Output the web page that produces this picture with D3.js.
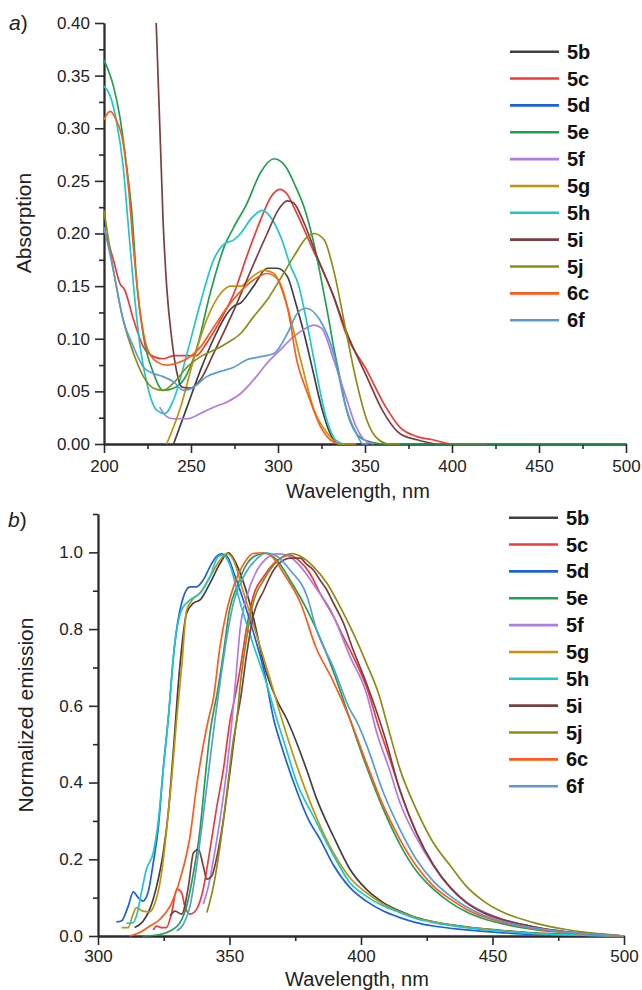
<!DOCTYPE html>
<html>
<head>
<meta charset="utf-8">
<script src="https://d3js.org/d3.v7.min.js"></script>
<style>
  body { margin: 0; background: #fff; }
  text { font-family: "Liberation Sans", Arial, sans-serif; }
</style>
</head>
<body>
<script>
// series names and colours (same order in both panels)
let names = ["5b", "5c", "5d", "5e", "5f", "5g", "5h", "5i", "5j", "6c", "6f"];
let colors = ["#404040", "#f03a3a", "#1f5fe0", "#22a052", "#b07be6", "#c8900c",
              "#1ec8c8", "#7b3f3f", "#8c8c14", "#ff5a1a", "#5b9bd5"];

// panel a) ticks
let abs_x_ticks = [200, 250, 300, 350, 400, 450, 500];
let abs_y_ticks = [0, 0.05, 0.10, 0.15, 0.20, 0.25, 0.30, 0.35, 0.40];

// panel a) absorption, [wavelength nm, absorption]
let abs_5b = [[240,0],[247.7,0.035],[255.4,0.07],[263,0.1],[270.8,0.124],[274.6,0.131],[278.5,0.134],[286,0.15],[293.8,0.167],[299.6,0.167],[305.4,0.159],[310,0.135],[315,0.105],[320,0.07],[325,0.035],[330,0.01],[335,0],[360,0]];
let abs_5c = [[200,0.205],[205.4,0.175],[209,0.153],[212,0.146],[217,0.118],[222.7,0.092],[228.5,0.083],[234,0.081],[240,0.084],[247.7,0.084],[253,0.084],[259,0.096],[267,0.118],[274.6,0.143],[282,0.178],[290,0.213],[296,0.235],[301,0.242],[305,0.238],[310,0.222],[320,0.185],[332,0.14],[339,0.105],[351,0.07],[362,0.035],[370,0.016],[380,0.007],[389,0.004],[400,0],[420,0]];
let abs_5d = [];
let abs_5e = [[200,0.365],[205.4,0.34],[209,0.312],[213,0.264],[216,0.22],[219,0.15],[222.7,0.102],[228.5,0.067],[234,0.051],[240,0.053],[245.8,0.061],[253.5,0.092],[261,0.143],[269,0.187],[274.6,0.206],[282,0.228],[290,0.258],[297.7,0.271],[302,0.268],[305,0.262],[310,0.245],[315,0.225],[320,0.195],[325,0.155],[329,0.12],[332,0.092],[336,0.06],[339,0.035],[345,0.01],[351,0.003],[360,0],[500,0]];
let abs_5f = [[232,0.035],[236,0.026],[240,0.024],[247.7,0.024],[255.4,0.029],[263,0.035],[270.8,0.04],[278.5,0.048],[286,0.061],[293.8,0.077],[301,0.089],[309,0.102],[317,0.111],[320.7,0.113],[325,0.11],[332,0.08],[339,0.045],[345,0.016],[351,0.002],[355,0]];
let abs_5g = [[236,0],[244,0.035],[251.5,0.08],[259,0.118],[267,0.143],[272.7,0.15],[278.5,0.15],[286,0.16],[292,0.165],[297.7,0.162],[305.4,0.13],[313,0.08],[320.8,0.032],[328.5,0.01],[335,0],[345,0]];
let abs_5h = [[200,0.34],[203.5,0.331],[207,0.308],[211,0.264],[214,0.207],[217,0.15],[220.8,0.092],[224.6,0.058],[230.4,0.032],[235,0.029],[240,0.042],[247.7,0.086],[255.4,0.134],[263,0.175],[269,0.19],[274.6,0.194],[278.5,0.2],[285,0.215],[291,0.222],[296,0.215],[302,0.195],[307,0.17],[312,0.15],[316,0.12],[320,0.086],[328,0.023],[333,0.004],[338,0]];
let abs_5i = [[230,0.4],[234,0.21],[236,0.15],[239,0.099],[242,0.067],[244.8,0.054],[249.6,0.053],[255.4,0.061],[263,0.086],[274.6,0.127],[286,0.171],[293.8,0.2],[300,0.222],[305.4,0.231],[309,0.229],[315,0.21],[322,0.18],[332,0.14],[339,0.108],[351,0.064],[360,0.032],[370,0.01],[380,0.004],[390,0]];
let abs_5j = [[200,0.222],[205.4,0.165],[211,0.118],[217,0.086],[222.7,0.064],[228.5,0.053],[234,0.051],[240,0.058],[247.7,0.073],[255.4,0.083],[263,0.089],[270.8,0.096],[278.5,0.105],[286,0.121],[293.8,0.137],[301,0.156],[309,0.178],[316.9,0.197],[320.7,0.2],[326.5,0.194],[332,0.165],[339,0.108],[345,0.06],[351,0.023],[356,0.007],[364,0],[370,0]];
let abs_6c = [[200,0.308],[203.5,0.316],[207,0.308],[211,0.286],[214,0.245],[217,0.185],[220.8,0.125],[224.6,0.092],[230.4,0.078],[236,0.075],[242,0.077],[247.7,0.081],[255.4,0.092],[263,0.111],[270.8,0.13],[278.5,0.145],[286,0.156],[293.8,0.162],[299.6,0.157],[305.4,0.13],[311,0.078],[317,0.048],[324.6,0.016],[330,0.004],[335,0]];
let abs_6f = [[200,0.206],[205.4,0.165],[211,0.118],[217,0.092],[222.7,0.073],[228.5,0.067],[234,0.064],[240,0.059],[245.8,0.051],[251.5,0.054],[259,0.064],[267,0.069],[274.6,0.073],[282,0.08],[290,0.083],[297.7,0.086],[305.4,0.105],[311,0.124],[316,0.129],[324,0.118],[332,0.086],[339,0.035],[345,0.01],[349,0],[352,0]];

// panel b) ticks
let em_x_ticks = [300, 350, 400, 450, 500];
let em_y_ticks = [0, 0.2, 0.4, 0.6, 0.8, 1.0];

// panel b) normalized emission, [wavelength nm, intensity]
let em_5b = [[313.9,0.022],[317,0.037],[319.7,0.07],[322.3,0.13],[324.8,0.217],[326.7,0.32],[328.6,0.478],[331,0.694],[333.7,0.842],[336.3,0.868],[338.8,0.876],[342.6,0.92],[346.4,0.971],[349.6,0.999],[351.5,0.984],[355.4,0.92],[359,0.833],[362.9,0.712],[368,0.615],[371.8,0.565],[379.5,0.43],[383,0.36],[389.5,0.26],[395.8,0.174],[402,0.122],[408.5,0.087],[414.8,0.065],[421,0.048],[427.5,0.037],[440,0.024],[453,0.015],[465.6,0.008],[484.6,0.003],[500,0]];
let em_5c = [[321,0.016],[322.3,0.026],[324,0.022],[326,0.022],[328,0.06],[330,0.122],[331.8,0.113],[333,0.078],[335,0.057],[337.5,0.07],[340,0.122],[342.6,0.226],[345,0.33],[347.7,0.435],[350.3,0.565],[352,0.62],[354,0.694],[356.6,0.807],[359,0.885],[363,0.937],[366.8,0.971],[370.6,0.989],[373,0.993],[377,0.975],[380.6,0.945],[384.4,0.894],[389.5,0.833],[393.3,0.78],[397,0.729],[402,0.651],[407,0.54],[411,0.46],[414.8,0.38],[421,0.27],[427.5,0.185],[434,0.125],[440,0.088],[446.6,0.06],[453,0.043],[465.6,0.023],[478,0.01],[490.6,0.004],[500,0]];
let em_5d = [[307,0.037],[309,0.04],[311.5,0.078],[313.4,0.115],[315.3,0.1],[317,0.091],[319,0.113],[321,0.19],[323,0.287],[324.8,0.435],[326.7,0.565],[329,0.75],[331.8,0.868],[335,0.91],[337.5,0.91],[340,0.928],[342.6,0.963],[345,0.989],[347,0.996],[349,0.99],[352,0.94],[356,0.86],[360,0.77],[363.5,0.68],[366.8,0.565],[370,0.49],[374.4,0.4],[380,0.304],[384.6,0.25],[389.5,0.185],[395.8,0.126],[402,0.091],[408.5,0.065],[414.8,0.048],[421,0.035],[427.5,0.026],[440,0.016],[453,0.009],[465.6,0.004],[478,0.002],[500,0]];
let em_5e = [[317,0],[323.5,0.004],[327.4,0.013],[331.2,0.035],[333.7,0.078],[336.3,0.165],[338.8,0.278],[340.7,0.409],[342.6,0.53],[345.5,0.64],[347.7,0.738],[350,0.85],[352.8,0.91],[356.6,0.97],[360.5,0.993],[364,0.997],[368,0.98],[373,0.928],[379.5,0.85],[385.8,0.755],[390,0.68],[395.8,0.565],[402,0.443],[408.5,0.33],[414.8,0.239],[421,0.17],[427.5,0.122],[434,0.087],[440,0.063],[446.6,0.045],[453,0.033],[465.6,0.017],[478,0.008],[490.6,0.003],[500,0]];
let em_5f = [[340,0.083],[342,0.13],[343.9,0.2],[346.4,0.304],[349,0.435],[351,0.565],[352.5,0.68],[354,0.798],[356.6,0.885],[360.5,0.954],[364,0.984],[368,0.996],[371.8,0.993],[377,0.963],[383.4,0.902],[388.4,0.85],[395.8,0.729],[402,0.634],[406,0.53],[411,0.43],[414.8,0.348],[421,0.257],[427.5,0.183],[434,0.126],[440,0.089],[446.6,0.063],[453,0.045],[465.6,0.024],[478,0.011],[490.6,0.004],[500,0]];
let em_5g = [[309,0.022],[311.5,0.022],[313,0.05],[314.6,0.074],[317,0.065],[319.7,0.063],[321.5,0.083],[324,0.157],[326,0.27],[328,0.409],[329.9,0.565],[331.8,0.7],[333.7,0.85],[336.3,0.88],[338.8,0.894],[342.6,0.937],[346.4,0.98],[349,0.997],[351.5,0.98],[355.4,0.894],[360.5,0.78],[365.5,0.668],[369.9,0.565],[376.8,0.42],[383,0.31],[389.5,0.217],[395.8,0.152],[402,0.113],[408.5,0.083],[414.8,0.063],[421,0.047],[427.5,0.037],[440,0.023],[453,0.014],[465.6,0.007],[484.6,0.002],[500,0]];
let em_5h = [[310.8,0.033],[313.4,0.035],[314.6,0.052],[316.5,0.113],[318.4,0.174],[321,0.217],[323,0.304],[324.8,0.435],[326.7,0.565],[329,0.75],[331.8,0.85],[335,0.876],[338.8,0.894],[342.6,0.937],[345.8,0.99],[347.7,0.993],[350,0.97],[354,0.87],[359,0.76],[364,0.66],[368,0.565],[371,0.5],[375.6,0.4],[382.5,0.304],[389.5,0.21],[395.8,0.139],[402,0.104],[408.5,0.078],[414.8,0.061],[421,0.045],[427.5,0.035],[440,0.022],[453,0.013],[465.6,0.007],[484.6,0.002],[500,0]];
let em_5i = [[327.4,0.052],[329.3,0.065],[331.8,0.057],[334.4,0.13],[336.3,0.217],[338.2,0.226],[340,0.183],[341.4,0.148],[343.3,0.157],[345,0.2],[347.7,0.304],[350.3,0.435],[352.8,0.565],[354,0.61],[356.6,0.738],[359,0.833],[363,0.9],[366.8,0.954],[370.6,0.98],[373,0.985],[377,0.985],[379,0.971],[381.9,0.954],[384.4,0.928],[387,0.902],[389.5,0.868],[393.3,0.816],[397,0.746],[402,0.66],[409,0.52],[414.8,0.38],[421,0.27],[427.5,0.185],[434,0.126],[440,0.087],[446.6,0.061],[453,0.045],[465.6,0.024],[478,0.011],[490.6,0.004],[500,0]];
let em_5j = [[341.4,0.061],[343.9,0.13],[346.4,0.235],[349,0.374],[351.5,0.513],[352.8,0.565],[354,0.65],[356.6,0.78],[359,0.868],[363,0.928],[366.8,0.967],[370.6,0.99],[373.7,0.997],[377,0.99],[381.9,0.963],[387,0.92],[392,0.859],[397,0.79],[402,0.712],[407,0.625],[409.8,0.556],[414.8,0.435],[421,0.33],[427.5,0.243],[434,0.183],[440,0.13],[446.6,0.091],[453,0.065],[465.6,0.035],[478,0.017],[490.6,0.006],[500,0]];
let em_6c = [[312,0],[315.8,0.009],[319.7,0.026],[323.5,0.043],[327.4,0.078],[331.2,0.148],[335,0.26],[337.5,0.391],[340,0.496],[342,0.565],[343.9,0.62],[346.4,0.755],[349,0.85],[351.5,0.91],[355.4,0.97],[359,0.997],[363,0.999],[366.8,0.984],[370.6,0.945],[377,0.868],[383,0.75],[389,0.67],[395.8,0.565],[402,0.452],[408.5,0.339],[414.8,0.252],[421,0.183],[427.5,0.13],[434,0.096],[440,0.07],[446.6,0.05],[453,0.037],[465.6,0.019],[478,0.009],[490.6,0.003],[500,0]];
let em_6f = [[329.9,0.013],[332.4,0.03],[335,0.078],[337.5,0.183],[340,0.313],[342.6,0.46],[344.5,0.565],[346.4,0.66],[349,0.78],[351.5,0.868],[355.4,0.937],[360.5,0.984],[364,0.999],[368,0.99],[373,0.954],[379.5,0.885],[383,0.8],[389.5,0.7],[395.8,0.59],[398.3,0.56],[402,0.5],[408.5,0.374],[414.8,0.278],[421,0.2],[427.5,0.143],[434,0.104],[440,0.076],[446.6,0.054],[453,0.039],[465.6,0.021],[478,0.01],[490.6,0.003],[500,0]];

let abs_data = [abs_5b, abs_5c, abs_5d, abs_5e, abs_5f, abs_5g, abs_5h, abs_5i, abs_5j, abs_6c, abs_6f];
let em_data = [em_5b, em_5c, em_5d, em_5e, em_5f, em_5g, em_5h, em_5i, em_5j, em_6c, em_6f];

let width = 642, height = 990;
let axis_color = "#2b2b2b";

let svg = d3.select("body").append("svg")
  .attr("width", width)
  .attr("height", height);

function draw_panel(p) {
  let x = d3.scaleLinear().domain(p.x_dom).range([p.left, p.right]);
  let y = d3.scaleLinear().domain(p.y_dom).range([p.bottom, p.top]);
  let g = svg.append("g");

  // minor ticks
  g.append("g").attr("transform", `translate(0,${p.bottom})`)
    .call(d3.axisBottom(x).tickValues(p.x_minor).tickSize(5).tickSizeOuter(0).tickFormat(""));
  g.append("g").attr("transform", `translate(${p.left},0)`)
    .call(d3.axisLeft(y).tickValues(p.y_minor).tickSize(5).tickSizeOuter(0).tickFormat(""));

  // major ticks + labels
  g.append("g").attr("transform", `translate(0,${p.bottom})`)
    .call(d3.axisBottom(x).tickValues(p.x_ticks).tickSize(9).tickSizeOuter(0).tickPadding(p.x_pad).tickFormat(d3.format("d")));
  g.append("g").attr("transform", `translate(${p.left},0)`)
    .call(d3.axisLeft(y).tickValues(p.y_ticks).tickSize(9).tickSizeOuter(0).tickPadding(p.y_pad).tickFormat(d3.format(p.y_fmt)));

  g.selectAll(".tick line").attr("stroke", axis_color).attr("stroke-width", 1.6);
  g.selectAll(".domain").attr("stroke", axis_color).attr("stroke-width", 1.8);
  g.selectAll(".tick text")
    .attr("font-family", "Liberation Sans, Arial, sans-serif")
    .attr("font-size", 17).attr("fill", "#222");

  // curves
  let line = d3.line()
    .x(d => x(d[0]))
    .y(d => y(d[1]))
    .curve(d3.curveMonotoneX);
  p.data.forEach((s, i) => {
    if (s.length == 0) return;
    g.append("path")
      .attr("d", line(s))
      .attr("fill", "none")
      .attr("stroke", colors[i])
      .attr("stroke-width", 1.7)
      .attr("stroke-linejoin", "round");
  });

  // axis titles
  g.append("text")
    .attr("x", p.x_title_x).attr("y", p.x_title_y)
    .attr("text-anchor", "middle").attr("font-size", 20).attr("fill", "#222")
    .text("Wavelength, nm");
  g.append("text")
    .attr("transform", `translate(${p.y_title_x},${p.y_title_y}) rotate(-90)`)
    .attr("text-anchor", "middle").attr("font-size", 21).attr("fill", "#222")
    .text(p.y_title);

  // panel letter
  let lab = g.append("text").attr("x", p.letter_x).attr("y", p.letter_y)
    .attr("font-size", 21).attr("fill", "#222");
  lab.append("tspan").attr("font-style", "italic").text(p.letter);
  lab.append("tspan").text(")");

  // legend
  names.forEach((n, i) => {
    let ly = p.leg_y + i * 26.85;
    g.append("line")
      .attr("x1", p.leg_x).attr("x2", p.leg_x + 49)
      .attr("y1", ly).attr("y2", ly)
      .attr("stroke", colors[i]).attr("stroke-width", 2.6);
    g.append("text")
      .attr("x", p.leg_x + 57).attr("y", ly + 7)
      .attr("font-size", 20).attr("font-weight", "bold").attr("fill", "#111")
      .text(n);
  });
}

draw_panel({
  x_dom: [200, 500], y_dom: [0, 0.4],
  left: 104, right: 626, top: 23, bottom: 444,
  x_ticks: abs_x_ticks, x_minor: [225, 275, 325, 375, 425, 475],
  y_ticks: abs_y_ticks, y_minor: [0.025, 0.075, 0.125, 0.175, 0.225, 0.275, 0.325, 0.375],
  x_pad: 7, y_fmt: ".2f", y_pad: 5,
  data: abs_data,
  x_title_x: 358, x_title_y: 498,
  y_title: "Absorption", y_title_x: 31, y_title_y: 223,
  letter: "a", letter_x: 9, letter_y: 30,
  leg_x: 510, leg_y: 51.7
});

draw_panel({
  x_dom: [300, 500], y_dom: [0, 1.1],
  left: 98, right: 624, top: 514, bottom: 936,
  x_ticks: em_x_ticks, x_minor: [325, 375, 425, 475],
  y_ticks: em_y_ticks, y_minor: [0.1, 0.3, 0.5, 0.7, 0.9, 1.1],
  x_pad: 5, y_fmt: ".1f", y_pad: 6,
  data: em_data,
  x_title_x: 357, x_title_y: 986,
  y_title: "Normalized emission", y_title_x: 33, y_title_y: 715,
  letter: "b", letter_x: 8, letter_y: 527,
  leg_x: 509, leg_y: 517.7
});
</script>
</body>
</html>
